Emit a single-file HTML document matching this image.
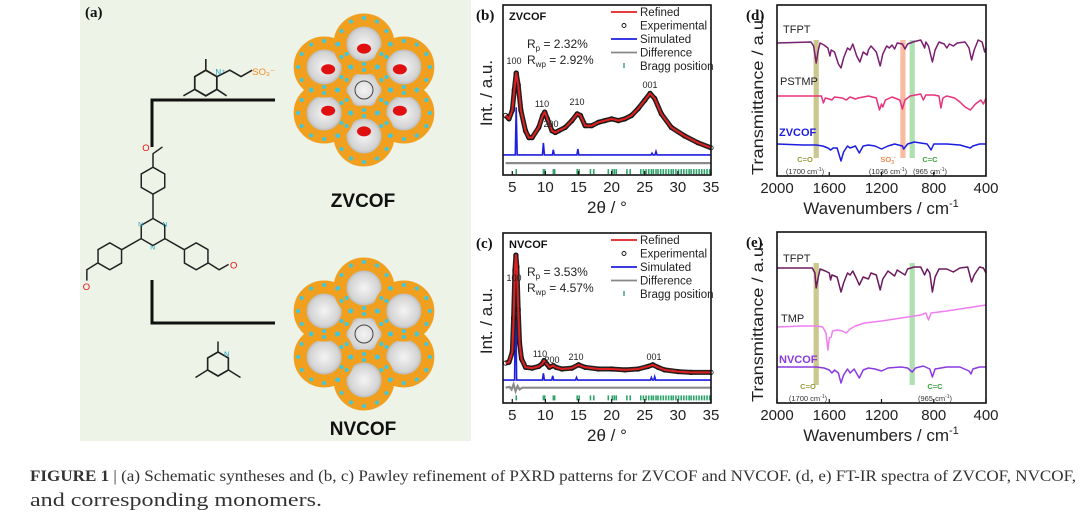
<!DOCTYPE html>
<html><head><meta charset="utf-8"><style>
html,body{margin:0;padding:0;background:#fff;}
svg{display:block;font-family:"Liberation Sans",sans-serif;}
</style></head><body>
<svg id="fig" width="1080" height="514" viewBox="0 0 1080 514" xmlns="http://www.w3.org/2000/svg">
<defs>
<radialGradient id="pore" cx="50%" cy="50%" r="50%"><stop offset="0%" stop-color="#f4f4f4"/><stop offset="60%" stop-color="#d4d4d4"/><stop offset="100%" stop-color="#8a8a8a"/></radialGradient>
</defs>
<rect x="80" y="0" width="391" height="441" fill="#eef3e7"/>
<g id="panelA"></g>
<g id="charts"></g>
<text x="30" y="481" font-family="Liberation Serif, serif" font-size="16" fill="#333" textLength="1046" lengthAdjust="spacingAndGlyphs"><tspan font-weight="bold">FIGURE 1</tspan>  |  (a) Schematic syntheses and (b, c) Pawley refinement of PXRD patterns for ZVCOF and NVCOF. (d, e) FT-IR spectra of ZVCOF, NVCOF,</text>
<text x="30" y="506" font-family="Liberation Serif, serif" font-size="19" fill="#333" textLength="292" lengthAdjust="spacingAndGlyphs">and corresponding monomers.</text>
</svg>
<script>
// ---------- XRD data ----------
const xrdTicks = [5,10,15,20,25,30,35];
const zvRefX = [4,4.5,5,5.3,5.6,5.9,6.3,7,7.5,8,9,9.6,9.9,10.3,11,11.5,12,13,14,14.8,15.3,16,17,18,19,20,21,22,23,24,25,25.8,26.5,27.5,29,31,33,35];
const zvRefY = [35,33,38,50,60,53,38,26,22,22,28,35,37,33,26,25,26,28,32,36,35,29,29,31,32,33,32,33,35,39,44,48,45,36,28,23,19,16];
const zvSimPos = [5.6,9.7,11.2,14.9,26.1,26.7];
const zvSimH = [28,7,3,3.5,1,2];
const zvSimBase = 11.8;
const zvDiffX = [4,35];
const zvDiffY = [7,7];
const nvRefX = [4,4.5,5,5.2,5.4,5.55,5.7,5.9,6.1,6.4,7,8,9,9.5,9.8,10.2,10.6,11.2,11.6,12.5,14,15,16,18,20,22,24,25.5,26.2,27,28,30,32,35];
const nvRefY = [23.5,24,30,50,78,87,80,55,35,26,21,20.5,21.5,23,25,23,21,22,21,20,20.5,22.5,21,20,20,19.5,20,21.5,22.5,21,19.5,18.5,18,18];
const nvSimPos = [5.5,9.7,11.1,14.7,26,26.5];
const nvSimH = [62,4,2.5,1.5,1.5,2];
const nvSimBase = 13.5;
const nvDiffX = [4,4.6,4.9,5.2,5.5,5.8,6.1,6.5,35];
const nvDiffY = [9,9.5,8,11,7,10,8,9,9];
const braggPos = [5.6,9.7,9.9,11.2,11.4,14.8,15.1,16.8,17.3,19.5,20.1,20.4,20.7,22.3,22.8,24.4,24.8,25.2,25.6,26.0,26.3,26.7,27.0,27.4,27.8,28.2,28.6,29.0,29.3,29.7,30.1,30.5,30.9,31.3,31.7,32.0,32.4,32.8,33.2,33.6,34.0,34.4,34.8];
// ---------- IR data ----------
const irTicks = [2000,1600,1200,800,400];
const tfptDX = [2000,1740,1720,1700,1685,1670,1640,1610,1595,1585,1560,1530,1510,1490,1460,1440,1420,1390,1365,1340,1310,1300,1280,1240,1210,1190,1160,1140,1120,1100,1080,1040,1020,1000,960,900,880,870,860,840,810,790,760,720,700,680,650,620,560,530,510,490,460,430,410,400];
const tfptDY = [133,134,130,113,125,133,131,128,120,126,124,112,108,118,128,126,132,120,114,124,121,126,130,124,110,122,130,128,131,127,133,132,127,132,134,136,131,128,134,130,114,126,134,132,128,132,130,133,134,128,116,126,136,134,124,128];
const pstmpX = [2000,1660,1645,1630,1600,1580,1560,1500,1470,1440,1400,1380,1300,1240,1215,1200,1190,1170,1120,1060,1040,1020,980,900,880,860,800,760,745,730,700,640,600,560,520,480,440,420,400];
const pstmpY = [80,80,73,78,77,76,79,78,76,79,77,78,80,78,66,72,69,76,79,76,67,76,80,82,76,81,81,80,68,78,80,78,74,69,66,72,76,72,78];
const zvIrX = [2000,1800,1700,1650,1610,1590,1570,1540,1510,1490,1460,1440,1400,1370,1340,1300,1250,1200,1150,1100,1040,1030,1000,950,900,850,820,800,700,600,520,500,450,400];
const zvIrY = [32,31,31,30,28,26,28,28,15,24,30,28,30,23,30,31,30,27,30,32,30,27,32,34,33,32,26,32,32,31,28,30,32,32];
const tfptEX = [2000,1730,1710,1700,1685,1670,1630,1600,1590,1580,1540,1510,1490,1460,1440,1420,1390,1370,1340,1300,1280,1240,1210,1190,1150,1100,1080,1020,1000,950,900,870,850,830,810,790,760,700,650,600,540,510,490,450,420,400];
const tfptEY = [135,135,130,115,125,134,132,130,123,128,126,111,120,130,128,132,124,118,126,124,130,128,113,124,132,127,133,128,134,136,136,128,134,130,111,126,134,134,131,135,136,121,128,136,135,130];
const tmpX = [2000,1800,1700,1650,1625,1610,1600,1585,1575,1540,1500,1470,1440,1400,1330,1200,1100,1000,900,860,840,820,700,600,500,450,400];
const tmpY = [76,77,77,76,70,53,65,66,72,73,72,70,74,77,80,82,84,86,88,90,83,90,92,94,96,97,98];
const nvIrX = [2000,1800,1700,1640,1600,1580,1560,1530,1510,1490,1460,1440,1410,1370,1340,1300,1250,1200,1150,1050,1000,965,940,880,830,810,790,700,600,530,515,500,450,400];
const nvIrY = [36,36,36,35,33,30,33,30,20,28,34,30,34,25,33,35,34,32,35,36,35,31,35,37,34,26,34,36,36,32,29,34,36,36];

const NS = "http://www.w3.org/2000/svg";
const root = document.getElementById('charts');
function mk(tag, attrs, parent, txt){
  const e = document.createElementNS(NS, tag);
  for (const k in attrs) e.setAttribute(k, attrs[k]);
  if (txt !== undefined) e.textContent = txt;
  (parent || root).appendChild(e);
  return e;
}
function pts(xs, ys, sx, sy){ return xs.map((x,i)=>sx(x).toFixed(1)+','+sy(ys[i]).toFixed(1)).join(' '); }

function xrdPanel(o){
  const L=503, R=711, T=o.top, B=o.top+170;
  const sx = v => L + (v-3.6)*(R-L)/31.4;
  const sy = v => B - v*1.7;
  const g = mk('g', {});  
  braggPos.forEach(p=>{ const t=mk('line',{x1:sx(p),x2:sx(p),y1:sy(o.bragg)-2.5,y2:sy(o.bragg)+2.5,stroke:'#2fa36b','stroke-width':1.6},g);
      });
  const d=mk('polyline',{points:pts(o.diffX,o.diffY,sx,sy),fill:'none',stroke:'#8a8a8a','stroke-width':2.2},g);
   
  let sp = [[3.6,o.simBase]];
  o.simPos.forEach((p,i)=>{ sp.push([p-0.15,o.simBase],[p,o.simBase+o.simH[i]],[p+0.15,o.simBase]); });
  sp.push([35,o.simBase]);
  const s=mk('polyline',{points:sp.map(q=>sx(q[0]).toFixed(1)+','+sy(q[1]).toFixed(1)).join(' '),fill:'none',stroke:'#1f1fe0','stroke-width':1.6},g);
   
  const e=mk('polyline',{points:pts(o.refX,o.refY,sx,sy),fill:'none',stroke:'#222','stroke-width':5,'stroke-linejoin':'round'},g);
   
  o.refX.forEach((x,i)=>{ const c=mk('circle',{cx:sx(x),cy:sy(o.refY[i]),r:2.2,fill:'none',stroke:'#111','stroke-width':0.8},g);
      });
  const r=mk('polyline',{points:pts(o.refX,o.refY,sx,sy),fill:'none',stroke:'#e02020','stroke-width':2,'stroke-linejoin':'round'},g);
   
  const f=mk('rect',{x:L,y:T,width:R-L,height:B-T,fill:'none',stroke:'#111','stroke-width':1.6},g);
   
  xrdTicks.forEach(t=>{ mk('line',{x1:sx(t),x2:sx(t),y1:B,y2:B-4,stroke:'#111','stroke-width':1.2},g);
    const tl=mk('text',{x:sx(t),y:B+17,'font-size':15,'text-anchor':'middle',fill:'#222'},g,String(t));
      });
  const xt=mk('text',{x:607,y:B+38,'font-size':17,'text-anchor':'middle',fill:'#222'},g,'2θ / °');
   
  const yt=mk('text',{x:0,y:0,'font-size':17,'text-anchor':'middle',fill:'#222',transform:`translate(492,${T+88}) rotate(-90)`},g,'Int. / a.u.');
   
  const pl=mk('text',{x:476,y:T+15,'font-size':15,'font-weight':'bold','font-family':'Liberation Serif, serif',fill:'#111'},g,o.letter);
   
  const tt=mk('text',{x:509,y:T+15,'font-size':11,'font-weight':'bold',fill:'#111'},g,o.title);
   
  const rp=mk('text',{x:527,y:T+43,'font-size':12,fill:'#222'},g); rp.innerHTML='R<tspan font-size="8" dy="3">p</tspan><tspan dy="-3"> = '+o.rp+'</tspan>';
   
  const rw=mk('text',{x:527,y:T+59,'font-size':12,fill:'#222'},g); rw.innerHTML='R<tspan font-size="8" dy="3">wp</tspan><tspan dy="-3"> = '+o.rwp+'</tspan>';
   
  const leg=[['Refined','#e02020','line'],['Experimental','#111','circle'],['Simulated','#1f1fe0','line'],['Difference','#888','line'],['Bragg position','#2fa36b','tick']];
  leg.forEach((it,i)=>{ const y=T+11+i*13.5;
    const lg=mk('g',{},g);  
    if(it[2]==='line') mk('line',{x1:611,x2:637,y1:y-4,y2:y-4,stroke:it[1],'stroke-width':1.8},lg);
    else if(it[2]==='circle') mk('circle',{cx:624,cy:y-4,r:2,fill:'none',stroke:'#111','stroke-width':0.9},lg);
    else mk('line',{x1:624,x2:624,y1:y-7,y2:y-2,stroke:it[1],'stroke-width':1.4},lg);
    mk('text',{x:640,y:y,'font-size':11.5,fill:'#222'},lg,it[0]); });
  o.peaks.forEach(p=>{ const pk=mk('text',{x:p[1],y:p[2],'font-size':9,'text-anchor':'middle',fill:'#222'},g,p[0]);
      });
}
xrdPanel({name:'zvcof-pxrd',top:5,letter:'(b)',title:'ZVCOF',rp:'2.32%',rwp:'2.92%',refX:zvRefX,refY:zvRefY,simPos:zvSimPos,simH:zvSimH,simBase:zvSimBase,diffX:zvDiffX,diffY:zvDiffY,bragg:2,
  peaks:[['100',514,64],['110',542,107],['200',551,127],['210',577,105],['001',650,88]]});
xrdPanel({name:'nvcof-pxrd',top:233,letter:'(c)',title:'NVCOF',rp:'3.53%',rwp:'4.57%',refX:nvRefX,refY:nvRefY,simPos:nvSimPos,simH:nvSimH,simBase:nvSimBase,diffX:nvDiffX,diffY:nvDiffY,bragg:3,
  peaks:[['100',514,281],['110',540,357],['200',552,363],['210',576,360],['001',654,360]]});

function irPanel(o){
  const L=777, R=986, T=o.top, B=o.top+171;
  const sx = v => L + (2000-v)*(R-L)/1600;
  const sy = v => B - v;
  const g = mk('g', {});  
  o.bands.forEach(b=>{ const r=mk('rect',{x:sx(b[0]+20),y:T+o.bandTop,width:sx(b[0]-20)-sx(b[0]+20),height:o.bandH,fill:b[1],opacity:0.75},g);
      });
  o.traces.forEach(t=>{ const p=mk('polyline',{points:pts(t.x,t.y,sx,sy),fill:'none',stroke:t.c,'stroke-width':1.5,'stroke-linejoin':'round'},g);
     
    const lb=mk('text',{x:t.lx,y:t.ly,'font-size':11,fill:t.lc||'#222','font-weight':t.b?'bold':'normal'},g,t.n);
      });
  o.notes.forEach(n=>{ const a=mk('text',{x:n[1],y:T+157,'font-size':7.5,'font-weight':'bold','text-anchor':'middle',fill:n[2]},g); a.innerHTML=n[0];
     
    const b=mk('text',{x:n[1],y:T+169,'font-size':7.5,'text-anchor':'middle',fill:'#333'},g); b.innerHTML=n[3];
      });
  const f=mk('rect',{x:L,y:T,width:R-L,height:B-T,fill:'none',stroke:'#111','stroke-width':1.6},g);
   
  irTicks.forEach(t=>{ mk('line',{x1:sx(t),x2:sx(t),y1:B,y2:B-4,stroke:'#111','stroke-width':1.2},g);
    const tl=mk('text',{x:sx(t),y:B+17,'font-size':15,'text-anchor':'middle',fill:'#222'},g,String(t));
      });
  const xt=mk('text',{x:881,y:B+38,'font-size':17,'text-anchor':'middle',fill:'#222'},g); xt.innerHTML='Wavenumbers / cm<tspan font-size="11" dy="-7">-1</tspan>';
   
  const yt=mk('text',{x:0,y:0,'font-size':16,'text-anchor':'middle',fill:'#222',textLength:160,lengthAdjust:'spacingAndGlyphs',transform:`translate(763,${T+90}) rotate(-90)`},g,'Transmittance / a.u.');
   
  const pl=mk('text',{x:746,y:T+15,'font-size':15,'font-weight':'bold','font-family':'Liberation Serif, serif',fill:'#111'},g,o.letter);
   
}
irPanel({name:'zvcof-ftir',top:5,letter:'(d)',bandTop:35,bandH:118,
  bands:[[1700,'#b8b46a'],[1036,'#f5a683'],[965,'#95d595']],
  traces:[{n:'TFPT',x:tfptDX,y:tfptDY,c:'#7a1e6e',lx:783,ly:33},{n:'PSTMP',x:pstmpX,y:pstmpY,c:'#e8327c',lx:780,ly:85},{n:'ZVCOF',x:zvIrX,y:zvIrY,c:'#1c1ce0',lx:779,ly:136,lc:'#1c1ce0',b:true}],
  notes:[['C=O',805,'#9a9a3a','(1700 cm<tspan font-size="5" dy="-3">-1</tspan><tspan dy="3">)</tspan>'],['SO<tspan font-size="5" dy="2">3</tspan><tspan font-size="5" dy="-5">-</tspan>',888,'#f08a50','(1036 cm<tspan font-size="5" dy="-3">-1</tspan><tspan dy="3">)</tspan>'],['C=C',930,'#3aa03a','(965 cm<tspan font-size="5" dy="-3">-1</tspan><tspan dy="3">)</tspan>']]});
irPanel({name:'nvcof-ftir',top:232,letter:'(e)',bandTop:31,bandH:122,
  bands:[[1700,'#b8b46a'],[965,'#95d595']],
  traces:[{n:'TFPT',x:tfptEX,y:tfptEY,c:'#6c1a5e',lx:783,ly:262},{n:'TMP',x:tmpX,y:tmpY,c:'#f07ef0',lx:781,ly:322},{n:'NVCOF',x:nvIrX,y:nvIrY,c:'#8a3ae0',lx:779,ly:363,lc:'#8a3ae0',b:true}],
  notes:[['C=O',808,'#9a9a3a','(1700 cm<tspan font-size="5" dy="-3">-1</tspan><tspan dy="3">)</tspan>'],['C=C',935,'#3aa03a','(965 cm<tspan font-size="5" dy="-3">-1</tspan><tspan dy="3">)</tspan>']]});

// ---------- Panel A ----------
const A = document.getElementById('panelA');
function ma(tag, attrs, txt, parent){ return mk(tag, attrs, parent || A, txt); }
let t0=ma('text',{x:85,y:17,'font-size':15,'font-weight':'bold','font-family':'Liberation Serif, serif',fill:'#111'},'(a)');
 
ma('polyline',{points:'152,147 152,100 275,100',fill:'none',stroke:'#111','stroke-width':3});
ma('polyline',{points:'152,280 152,323 275,323',fill:'none',stroke:'#111','stroke-width':3});
function flower(cx, cy, red, name){
  const g = mk('g',{},A);  
  const cs=[[0,0]]; for(let k=0;k<6;k++){const a=Math.PI/6+k*Math.PI/3; cs.push([Math.cos(a)*46,Math.sin(a)*46]);}
  cs.forEach(c=>mk('circle',{cx:cx+c[0],cy:cy+c[1],r:24,fill:'url(#pore)',stroke:'#f0a01e','stroke-width':13},g));
  cs.forEach(c=>{ for(let k=0;k<12;k++){const a=k*Math.PI/6; mk('circle',{cx:cx+c[0]+Math.cos(a)*26,cy:cy+c[1]+Math.sin(a)*26,r:2,fill:'#3cc8e0'},g);} });
  if(red) cs.slice(1).forEach(c=>{ mk('ellipse',{cx:cx+c[0]*0.9,cy:cy+c[1]*0.9,rx:7,ry:5,fill:'#e01010'},g); });
  mk('circle',{cx:cx,cy:cy,r:9,fill:'none',stroke:'#444','stroke-width':1},g);
}
flower(364,90,true,'zvcof-structure');
flower(364,334,false,'nvcof-structure');
let l1=ma('text',{x:363,y:207,'font-size':19,'font-weight':'bold','text-anchor':'middle',fill:'#111'},'ZVCOF');
 
let l2=ma('text',{x:363,y:435,'font-size':19,'font-weight':'bold','text-anchor':'middle',fill:'#111'},'NVCOF');
 
const M = mk('g',{transform:'translate(153,232) scale(1.35) translate(-153,-238)'},A);
 
function hex(cx,cy,r,par){ let p=[]; for(let k=0;k<6;k++){const a=Math.PI/6+k*Math.PI/3; p.push((cx+Math.cos(a)*r).toFixed(1)+','+(cy+Math.sin(a)*r).toFixed(1));} ma('polygon',{points:p.join(' '),fill:'none',stroke:'#222','stroke-width':1.1},undefined,par); }
hex(153,238,10,M); hex(153,200,10,M); hex(121,256,10,M); hex(185,256,10,M);
ma('line',{x1:153,y1:228,x2:153,y2:210,stroke:'#222','stroke-width':1.1},undefined,M);
ma('line',{x1:144,y1:243,x2:130,y2:251,stroke:'#222','stroke-width':1.1},undefined,M);
ma('line',{x1:162,y1:243,x2:176,y2:251,stroke:'#222','stroke-width':1.1},undefined,M);
ma('polyline',{points:'153,190 153,180 160,175',fill:'none',stroke:'#222','stroke-width':1.1},undefined,M);
ma('polyline',{points:'112,261 104,266 104,274',fill:'none',stroke:'#222','stroke-width':1.1},undefined,M);
ma('polyline',{points:'194,261 202,266 209,262',fill:'none',stroke:'#222','stroke-width':1.1},undefined,M);
ma('text',{x:145,y:178,'font-size':7,fill:'#e01010'},'O',M);
ma('text',{x:101,y:281,'font-size':7,fill:'#e01010'},'O',M);
ma('text',{x:210,y:265,'font-size':7,fill:'#e01010'},'O',M);
ma('text',{x:142,y:234,'font-size':5,fill:'#20a0c0'},'N',M);
ma('text',{x:160,y:234,'font-size':5,fill:'#20a0c0'},'N',M);
ma('text',{x:151,y:251,'font-size':5,fill:'#20a0c0'},'N',M);
const R1 = mk('g',{transform:'translate(225,75) scale(1.6) translate(-230,-72)'},A);
 
hex(218,77,8,R1); ma('line',{x1:218,y1:69,x2:218,y2:62,stroke:'#222','stroke-width':1},undefined,R1);
ma('line',{x1:211,y1:81,x2:204,y2:85,stroke:'#222','stroke-width':1},undefined,R1);
ma('line',{x1:225,y1:81,x2:231,y2:85,stroke:'#222','stroke-width':1},undefined,R1);
ma('polyline',{points:'225,73 233,69 240,73 247,69',fill:'none',stroke:'#222','stroke-width':1},undefined,R1);
ma('text',{x:224,y:72,'font-size':5,fill:'#20a0c0'},'N⁺',R1);
ma('text',{x:247,y:72,'font-size':6,fill:'#f08a20'},'SO₃⁻',R1);
const R2 = mk('g',{transform:'translate(218,364) scale(1.5) translate(-218,-364)'},A);
 
hex(218,364,8,R2); ma('text',{x:222,y:359,'font-size':5,fill:'#20a0c0'},'N',R2);
ma('line',{x1:211,y1:368,x2:203,y2:373,stroke:'#222','stroke-width':1},undefined,R2);
ma('line',{x1:225,y1:368,x2:233,y2:373,stroke:'#222','stroke-width':1},undefined,R2);
ma('line',{x1:218,y1:356,x2:218,y2:349,stroke:'#222','stroke-width':1},undefined,R2);
</script>
</body></html>
